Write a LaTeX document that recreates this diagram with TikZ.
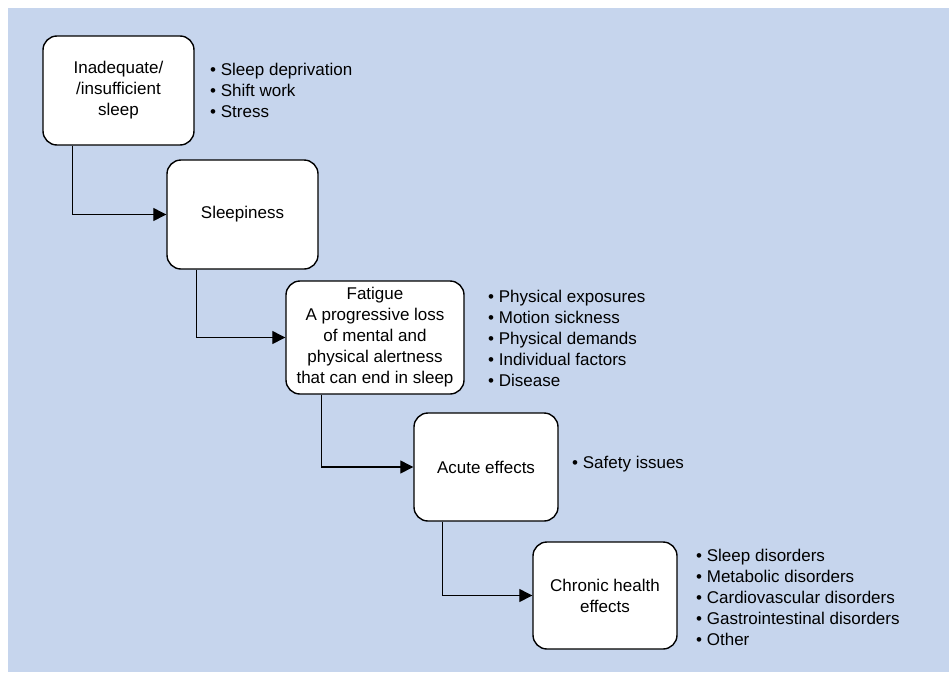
\documentclass[tikz,border=0pt]{standalone}
\usepackage{fontspec}
\setmainfont{Liberation Sans}
\usetikzlibrary{arrows.meta}
\definecolor{bgblue}{RGB}{198,213,237}
\begin{document}
\begin{tikzpicture}[x=1pt,y=-1pt,
  box/.style={draw=black, line width=1.4pt, fill=white, rounded corners=14pt, align=center, inner sep=0pt, font=\fontsize{17}{21}\selectfont},
  blist/.style={align=left, anchor=west, inner sep=0pt, font=\fontsize{17}{21}\selectfont},
  arr/.style={line width=1.3pt, -{Triangle[length=13pt,width=13pt]}}]
\useasboundingbox (0,0) rectangle (949,672);
\fill[bgblue] (8,8) rectangle (949,672);
% boxes
\node[box, minimum width=151pt, minimum height=109pt] (b1) at (118.5,90.5) {Inadequate/\\/insufficient\\sleep};
\node[box, minimum width=151pt, minimum height=109pt] (b2) at (242.5,214.5) {Sleepiness};
\node[box, minimum width=178pt, minimum height=113pt] (b3) at (375,337.5) {Fatigue\\A progressive loss\\of mental and\\physical alertness\\that can end in sleep};
\node[box, minimum width=144pt, minimum height=108pt] (b4) at (486,467) {Acute effects};
\node[box, minimum width=144pt, minimum height=107pt] (b5) at (605,595.5) {Chronic health\\effects};
% bullet lists
\node[blist] (l1) at (210,90.5) {• Sleep deprivation\\• Shift work\\• Stress};
\node[blist] (l3) at (488,338) {• Physical exposures\\• Motion sickness\\• Physical demands\\• Individual factors\\• Disease};
\node[blist] (l4) at (572,464) {• Safety issues};
\node[blist] (l5) at (696,597.5) {• Sleep disorders\\• Metabolic disorders\\• Cardiovascular disorders\\• Gastrointestinal disorders\\• Other};
% arrows
\draw[arr] ([xshift=30pt]b1.south west) |- (b2.west);
\draw[arr] ([xshift=30pt]b2.south west) |- (b3.west);
\draw[arr] ([xshift=36pt]b3.south west) |- (b4.west);
\draw[arr] ([xshift=29pt]b4.south west) |- (b5.west);
\end{tikzpicture}
\end{document}
